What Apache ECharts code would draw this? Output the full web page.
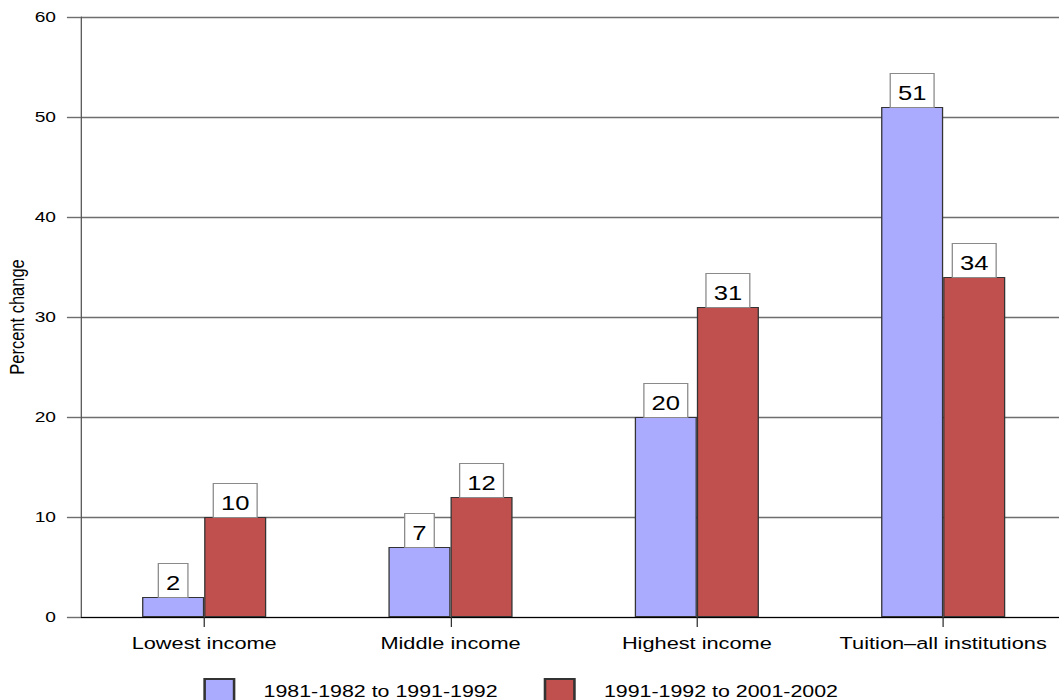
<!DOCTYPE html>
<html>
<head>
<meta charset="utf-8">
<title>Percent change</title>
<script src="https://cdn.jsdelivr.net/npm/echarts@6/dist/echarts.min.js"></script>
<style>
  html, body { margin: 0; padding: 0; background: #fff; overflow: hidden; }
  /* The chart is laid out on a narrower canvas and widened horizontally,
     giving the wide, stretched lettering of the original figure. */
  #chart {
    width: 827px;
    height: 700px;
    transform: scaleX(1.28053);
    transform-origin: 0 0;
  }
</style>
</head>
<body>
<div id="chart"></div>
<script>
// Categories along the horizontal axis
const categories = ['Lowest income', 'Middle income', 'Highest income', 'Tuition\u2013all institutions'];

// Series names
const seriesNames = ['1981-1982 to 1991-1992', '1991-1992 to 2001-2002'];

// Percent change per period
const period1 = [2, 7, 20, 51];
const period2 = [10, 12, 31, 34];

// Value axis ticks
const yTicks = [0, 10, 20, 30, 40, 50, 60];

const FONT = '"Liberation Sans", Arial, Helvetica, sans-serif';

const chart = echarts.init(document.getElementById('chart'), null, { renderer: 'svg' });

const valueLabel = {
  show: true,
  position: 'top',
  distance: 0,
  color: '#000',
  fontFamily: FONT,
  fontSize: 20,
  lineHeight: 20,
  backgroundColor: '#fff',
  borderColor: '#8a8a8a',
  borderWidth: 1,
  padding: [9, 5.5, 4, 5.5]
};

const option = {
  backgroundColor: '#fff',
  animation: false,
  textStyle: { fontFamily: FONT },
  grid: {
    left: 63.25,
    top: 17,
    width: 769.5,
    height: 600,
    containLabel: false,
    outerBoundsMode: 'none'
  },
  legend: {
    data: seriesNames,
    left: 158.8,
    top: 678,
    padding: 0,
    itemWidth: 23,
    itemHeight: 24,
    itemGap: 36,
    icon: 'rect',
    textStyle: {
      color: '#000',
      fontFamily: FONT,
      fontSize: 16.7,
      padding: [0, 0, 0, 18]
    }
  },
  xAxis: {
    type: 'category',
    data: categories,
    axisLine: { show: true, lineStyle: { color: '#000', width: 1 } },
    axisTick: { show: true, alignWithLabel: true, length: 10, lineStyle: { color: '#333' } },
    axisLabel: { interval: 0, color: '#000', fontFamily: FONT, fontSize: 17, margin: 17 },
    splitLine: { show: false }
  },
  yAxis: {
    type: 'value',
    min: yTicks[0],
    max: yTicks[yTicks.length - 1],
    interval: yTicks[1] - yTicks[0],
    name: 'Percent change',
    nameLocation: 'middle',
    nameGap: 42,
    nameRotate: 90,
    nameMoveOverlap: false,
    nameTextStyle: { color: '#000', fontFamily: FONT, fontSize: 16.5 },
    axisLine: { show: true, lineStyle: { color: '#555', width: 1 } },
    axisTick: { show: true, length: 11, lineStyle: { color: '#6e6e6e', width: 1.4 } },
    axisLabel: { color: '#000', fontFamily: FONT, fontSize: 15, margin: 19.5 },
    splitLine: { show: true, lineStyle: { color: '#6e6e6e', width: 1.4 } }
  },
  series: [
    {
      name: seriesNames[0],
      type: 'bar',
      data: period1,
      barWidth: '25.2%',
      barGap: '0%',
      itemStyle: { color: '#aaaaff', borderColor: '#333', borderWidth: 1 },
      label: valueLabel
    },
    {
      name: seriesNames[1],
      type: 'bar',
      data: period2,
      barWidth: '25.2%',
      barGap: '0%',
      itemStyle: { color: '#c0504d', borderColor: '#333', borderWidth: 1 },
      label: valueLabel
    }
  ]
};

chart.setOption(option);
</script>
</body>
</html>
